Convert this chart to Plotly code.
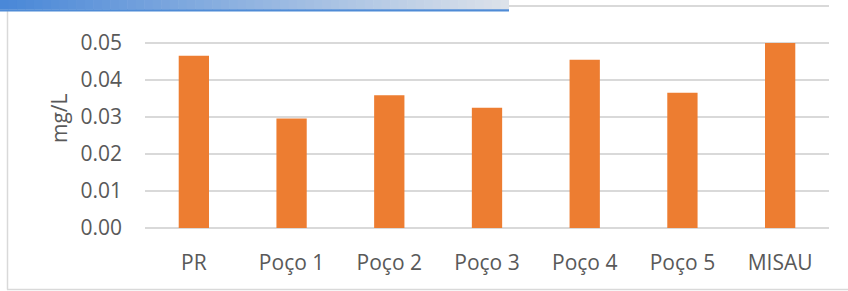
import plotly.graph_objects as go

categories = ["PR", "Poço 1", "Poço 2", "Poço 3", "Poço 4", "Poço 5", "MISAU"]
values = [0.0466, 0.0296, 0.0359, 0.0325, 0.0455, 0.0366, 0.0500]
tick_vals = [0.00, 0.01, 0.02, 0.03, 0.04, 0.05, 0.06]
tick_text = ["0.00", "0.01", "0.02", "0.03", "0.04", "0.05", "0.06"]

W, H = 848, 291
ML, MR, MT, MB = 145, 19, 5, 63
PW, PH = W - ML - MR, H - MT - MB

def px(x):
    return (x - ML) / PW

def py(y):
    return (H - MB - y) / PH

font_family = "Open Sans, Liberation Sans, sans-serif"
text_color = "#595959"
FS = 21

fig = go.Figure(go.Bar(
    x=categories, y=values,
    marker=dict(color="#ED7D31", line=dict(width=0)),
    width=0.31,
))

shapes = []
# chart border (left and bottom)
shapes.append(dict(type="line", xref="paper", yref="paper",
                   x0=px(7.5), x1=px(7.5), y0=py(11), y1=py(289.5),
                   line=dict(color="#D9D9D9", width=1.5), layer="above"))
shapes.append(dict(type="line", xref="paper", yref="paper",
                   x0=px(7), x1=px(850), y0=py(289.5), y1=py(289.5),
                   line=dict(color="#D9D9D9", width=1.5), layer="above"))

# gradient header bar
c0 = (74, 136, 216)
c1 = (220, 226, 234)
N = 60
x_end = 509
for i in range(N):
    t = i / (N - 1)
    r = int(c0[0] + (c1[0] - c0[0]) * t)
    g = int(c0[1] + (c1[1] - c0[1]) * t)
    b = int(c0[2] + (c1[2] - c0[2]) * t)
    xa = x_end * i / N
    xb = x_end * (i + 1) / N + 0.6
    shapes.append(dict(type="rect", xref="paper", yref="paper",
                       x0=px(xa), x1=px(min(xb, x_end)), y0=py(9.5), y1=py(-1),
                       fillcolor=f"rgb({r},{g},{b})", line=dict(width=0),
                       layer="above"))
shapes.append(dict(type="rect", xref="paper", yref="paper",
                   x0=px(0), x1=px(x_end), y0=py(11.5), y1=py(9.2),
                   fillcolor="#4F8BD6", line=dict(width=0), layer="above"))

fig.update_layout(
    width=W, height=H,
    margin=dict(l=ML, r=MR, t=MT, b=MB, pad=0),
    paper_bgcolor="white", plot_bgcolor="white",
    showlegend=False,
    bargap=0.69,
    font=dict(family=font_family, size=FS, color=text_color),
    xaxis=dict(
        showgrid=False, zeroline=False, showline=False,
        ticks="", ticklabelstandoff=20,
        tickfont=dict(size=FS, color=text_color),
    ),
    yaxis=dict(
        range=[0, 0.0603], tickvals=tick_vals, ticktext=tick_text,
        showgrid=True, gridcolor="#D9D9D9", gridwidth=1.5,
        zeroline=True, zerolinecolor="#D9D9D9", zerolinewidth=1.5,
        showline=False, ticks="", ticklabelstandoff=22,
        tickfont=dict(size=FS, color=text_color),
    ),
    shapes=shapes,
    annotations=[dict(
        text="mg/L", xref="paper", yref="paper",
        x=px(59), y=py(118), xanchor="center", yanchor="middle",
        textangle=-90, showarrow=False,
        font=dict(size=FS, color=text_color, family=font_family),
    )],
)

fig.write_html("out.html", config={"displayModeBar": False},
               post_script="document.body.style.margin='0';document.body.style.padding='0';")
